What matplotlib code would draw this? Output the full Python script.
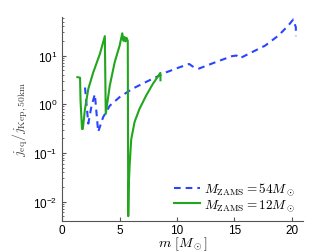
import matplotlib
matplotlib.use("Agg")
import matplotlib.pyplot as plt

plt.rcParams["mathtext.fontset"] = "cm"
plt.rcParams["font.family"] = ["Liberation Sans", "DejaVu Sans"]

# 54 Msun progenitor (dashed blue)
m54 = [1.99, 2.28, 2.55, 2.85, 3.14, 3.57, 4.15, 5.01, 6.17, 7.61, 9.05,
       10.2, 11.07, 11.5, 11.93, 13.37, 14.8, 15.2, 15.5, 16.54, 17.7,
       18.85, 19.7, 20.14, 20.37, 20.37]
j54 = [2.2, 0.40, 0.9, 1.6, 0.27, 0.54, 0.93, 1.4, 2.1, 3.1, 4.5,
       5.7, 6.7, 5.7, 5.4, 7.3, 9.7, 10.0, 8.8, 11.7, 16.0,
       25.7, 41.0, 55.0, 38.0, 25.0]

# 12 Msun progenitor (solid green)
m12 = [1.33, 1.56, 1.60, 1.73, 1.80, 1.99, 2.28, 2.71, 3.29, 3.72,
       3.78, 3.80, 4.15, 4.58, 5.01, 5.24, 5.35, 5.44, 5.52, 5.62, 5.72,
       5.76, 5.80, 5.88, 6.02, 6.31, 6.74, 7.32, 7.90, 8.56, 8.57]
j12 = [3.6, 3.5, 1.2, 0.31, 0.31, 0.8, 2.07, 4.5, 10.8, 25.0,
       1.5, 0.63, 2.4, 7.3, 16.0, 28.7, 20.0, 24.0, 19.5, 23.0, 20.0,
       0.005, 0.02, 0.055, 0.19, 0.43, 0.8, 1.5, 2.6, 4.4, 3.1]

fig = plt.figure(figsize=(3.36, 2.53), dpi=100)
ax = fig.add_axes([0.185, 0.123, 0.717, 0.806])

ax.plot(m54, j54, color="#2b45ff", ls=(0, (3.2, 2.4)), lw=1.5,
        label=r"$M_\mathrm{ZAMS}=54M_\odot$")
ax.plot(m12, j12, color="#22a61e", lw=1.5,
        label=r"$M_\mathrm{ZAMS}=12M_\odot$")

ax.set_yscale("log")
ax.set_xlim(0, 21)
ax.set_ylim(0.004, 62)
ax.set_xticks([0, 5, 10, 15, 20])
ax.set_yticks([1e-2, 1e-1, 1e0, 1e1])

for side in ("top", "right"):
    ax.spines[side].set_visible(False)
for side in ("left", "bottom"):
    ax.spines[side].set_color("#555555")
    ax.spines[side].set_linewidth(0.8)
ax.tick_params(which="both", direction="in", labelsize=8.5, colors="#555555",
               labelcolor="black")
ax.tick_params(which="major", length=3)
ax.tick_params(which="minor", length=1.5)
ax.tick_params(axis="x", pad=2)

ax.set_xlabel(r"$m\ [M_\odot]$", fontsize=10, va="bottom")
ax.xaxis.set_label_coords(0.5, -0.155)
ax.set_ylabel(r"$j_\mathrm{eq}/j_\mathrm{Kep,50km}$", fontsize=10, labelpad=2,
              color="#444444")

ax.legend(loc="lower right", frameon=False, fontsize=9.5, handlelength=2.0,
          handletextpad=0.3, labelspacing=0.0, borderaxespad=0.2)

fig.savefig("out.png", dpi=100)
